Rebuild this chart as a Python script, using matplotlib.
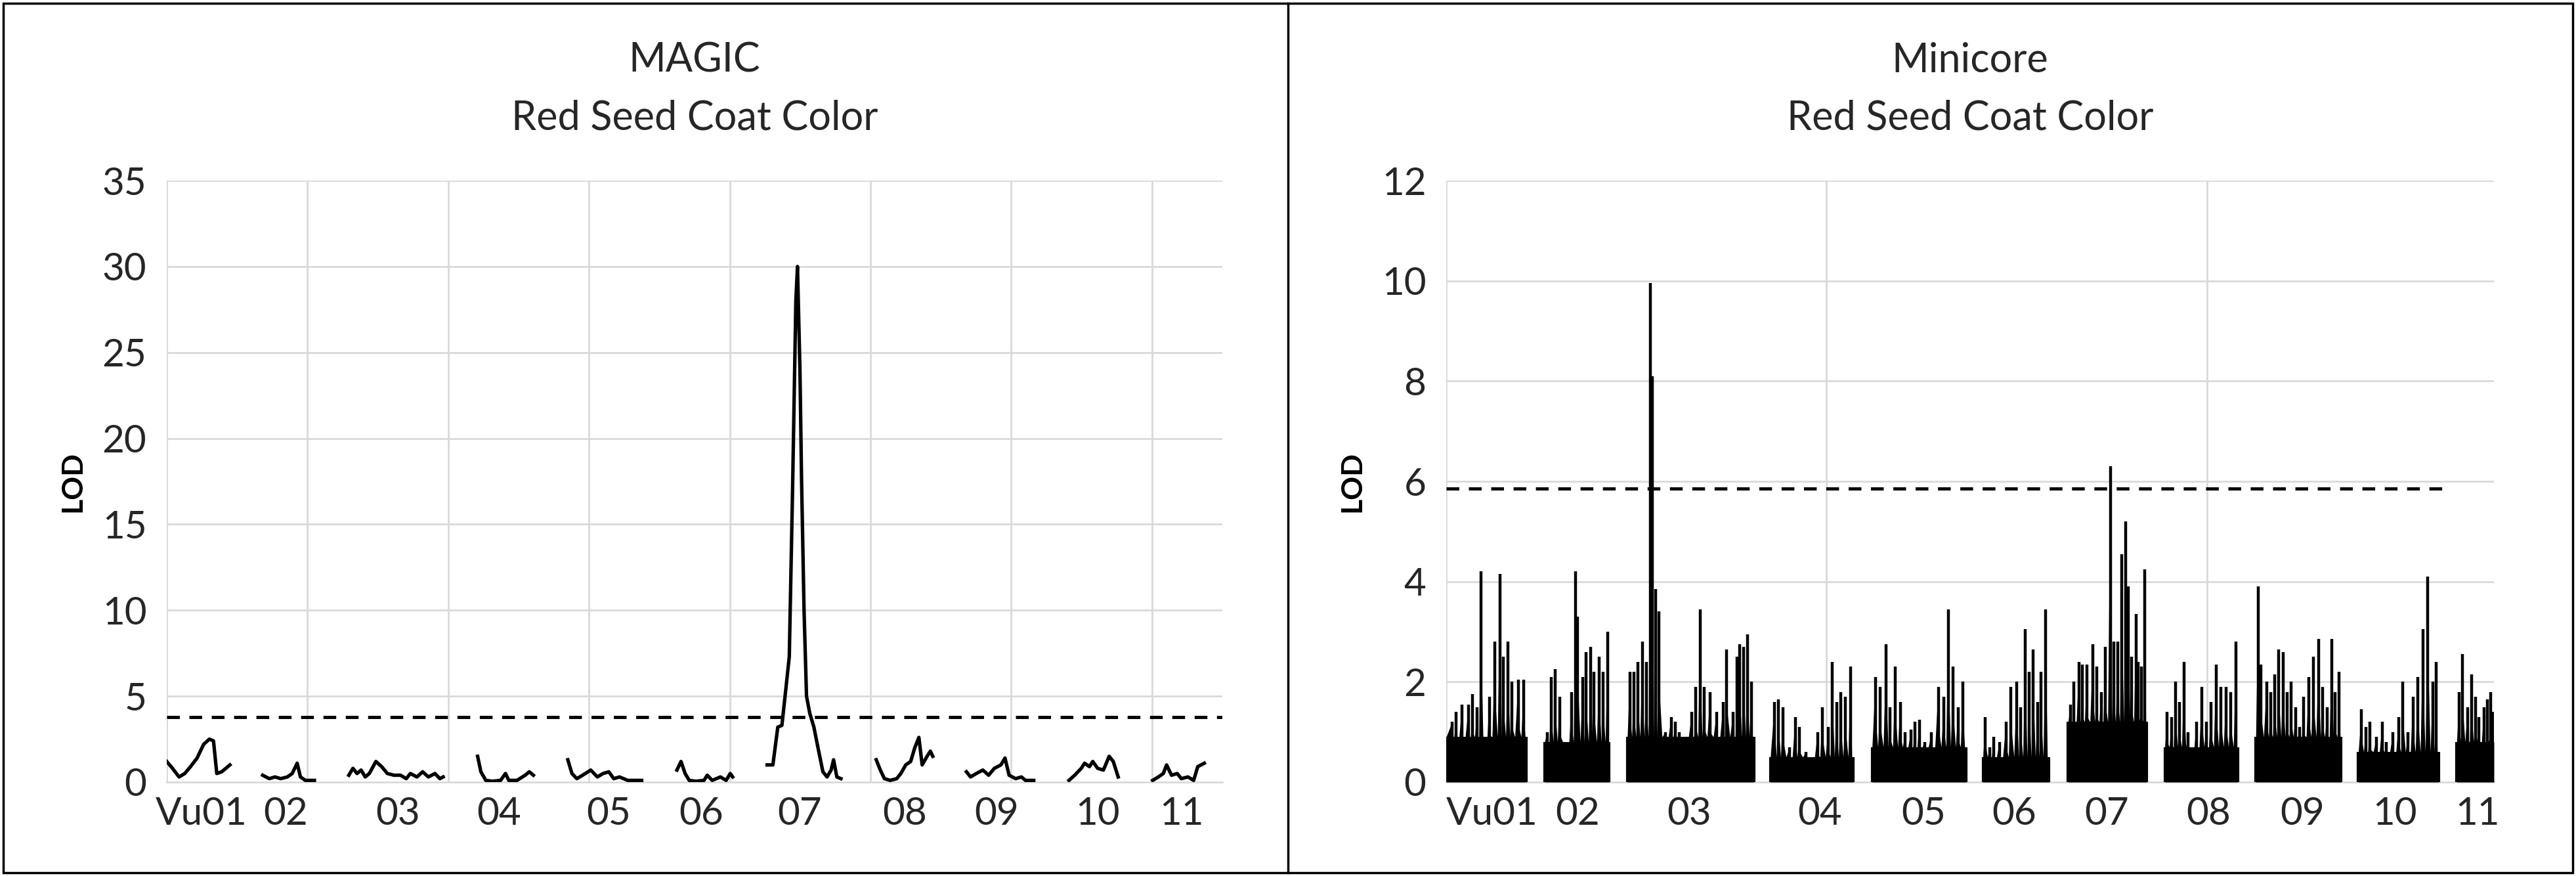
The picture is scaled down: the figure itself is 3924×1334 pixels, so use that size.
import matplotlib
matplotlib.use("Agg")
import matplotlib.pyplot as plt
import numpy as np

plt.rcParams['font.family'] = ['Lato', 'DejaVu Sans']

chroms = ["Vu01", "02", "03", "04", "05", "06", "07", "08", "09", "10", "11"]

# ---- MAGIC (left): x positions in pixel-like units, LOD values
magic_label_x = [42, 145, 282, 405, 539, 652, 772, 900, 1012, 1135, 1237]
magic_x = [
    [0, 7, 15, 22, 29, 37, 45, 52, 57, 61, 67, 72, 77],
    [117, 125, 132, 139, 147, 153, 159, 163, 169, 180],
    [222, 227, 232, 237, 242, 247, 255, 262, 269, 277, 285, 292, 297, 305, 312, 319, 327, 333, 337],
    [379, 383, 389, 397, 407, 413, 417, 427, 437, 442, 447],
    [489, 494, 500, 507, 517, 525, 532, 539, 545, 552, 562, 579],
    [622, 627, 632, 637, 645, 655, 659, 665, 675, 682, 687, 690],
    [732, 739, 745, 750, 755, 759, 763, 767, 769, 772, 774, 777, 780, 784, 789, 794, 800, 805, 810, 813, 817, 822],
    [865, 870, 875, 882, 890, 895, 901, 907, 912, 917, 921, 927, 931, 934],
    [975, 980, 987, 995, 1002, 1009, 1017, 1022, 1027, 1035, 1042, 1047, 1057],
    [1100, 1107, 1115, 1119, 1125, 1129, 1135, 1142, 1149, 1154, 1160],
    [1202, 1209, 1215, 1219, 1225, 1232, 1237, 1245, 1252, 1257, 1265],
]
magic_lod = [
    [1.2, 0.8, 0.3, 0.5, 0.9, 1.4, 2.2, 2.5, 2.4, 0.5, 0.6, 0.8, 1.0],
    [0.4, 0.2, 0.3, 0.2, 0.3, 0.5, 1.1, 0.3, 0.1, 0.1],
    [0.4, 0.8, 0.5, 0.7, 0.3, 0.5, 1.2, 0.9, 0.5, 0.4, 0.4, 0.2, 0.5, 0.3, 0.6, 0.3, 0.5, 0.2, 0.3],
    [1.5, 0.6, 0.1, 0.05, 0.1, 0.5, 0.1, 0.1, 0.4, 0.6, 0.4],
    [1.3, 0.5, 0.2, 0.4, 0.7, 0.3, 0.5, 0.6, 0.2, 0.3, 0.1, 0.1],
    [0.7, 1.2, 0.5, 0.1, 0.05, 0.1, 0.4, 0.1, 0.3, 0.1, 0.5, 0.3],
    [1.0, 1.0, 3.2, 3.3, 5.5, 7.3, 17, 28, 30, 24, 17.5, 10, 5, 4, 3.2, 2.0, 0.6, 0.3, 0.7, 1.3, 0.3, 0.2],
    [1.3, 0.7, 0.2, 0.1, 0.2, 0.5, 1.0, 1.2, 2.0, 2.6, 1.0, 1.5, 1.8, 1.5],
    [0.6, 0.3, 0.5, 0.7, 0.4, 0.8, 1.0, 1.4, 0.4, 0.2, 0.3, 0.1, 0.1],
    [0.1, 0.4, 0.8, 1.1, 0.9, 1.2, 0.8, 0.7, 1.5, 1.2, 0.3],
    [0.1, 0.3, 0.5, 1.0, 0.4, 0.5, 0.2, 0.3, 0.1, 0.9, 1.1],
]
magic_threshold = 3.8

# ---- Minicore (right): chromosome spans, base fill level, spikes
mini_label_x = [55, 159, 294, 452, 577, 687, 799, 922, 1035, 1147, 1247]
mini_span = [(0, 97), (119, 197), (219, 372), (392, 492), (515, 629), (649, 729),
             (752, 847), (869, 957), (979, 1082), (1103, 1200), (1222, 1267)]
mini_base = [0.9, 0.8, 0.9, 0.5, 0.7, 0.5, 1.2, 0.7, 0.9, 0.6, 0.8]
mini_spike_x = [
    [7, 12, 19, 27, 32, 37, 42, 47, 52, 59, 65, 69, 75, 79, 87, 94],
    [122, 127, 132, 137, 145, 152, 156, 159, 165, 169, 175, 179, 185, 190, 195],
    [222, 227, 232, 237, 242, 247, 249, 253, 257, 265, 272, 277, 282, 289, 297, 302, 307, 312, 319, 327, 335, 339, 347, 352, 355, 360, 364, 369],
    [397, 402, 407, 415, 422, 427, 435, 442, 449, 455, 462, 467, 472, 477, 483, 489],
    [519, 525, 532, 537, 543, 549, 555, 562, 567, 572, 579, 587, 595, 602, 607, 613, 619, 625],
    [652, 657, 662, 669, 677, 683, 690, 695, 700, 705, 710, 715, 719, 725],
    [755, 759, 765, 769, 775, 782, 787, 792, 797, 803, 807, 812, 817, 822, 825, 829, 834, 837, 841, 845],
    [872, 877, 882, 887, 892, 897, 902, 907, 914, 919, 925, 931, 937, 943, 949, 955],
    [982, 985, 992, 997, 1002, 1007, 1012, 1017, 1022, 1027, 1032, 1037, 1043, 1049, 1055, 1060, 1065, 1071, 1075, 1080],
    [1107, 1112, 1117, 1125, 1132, 1137, 1145, 1152, 1157, 1163, 1169, 1175, 1181, 1187, 1193, 1197],
    [1225, 1229, 1235, 1240, 1245, 1249, 1255, 1259, 1263, 1266],
]
mini_spike_lod = [
    [1.2, 1.4, 1.55, 1.55, 1.75, 1.5, 4.2, 0.9, 1.7, 2.8, 4.15, 2.5, 2.8, 2.0, 2.05, 2.05],
    [1.0, 2.1, 2.25, 1.7, 0.6, 1.8, 4.2, 3.3, 2.1, 2.6, 2.7, 2.2, 2.5, 2.2, 3.0],
    [2.2, 2.2, 2.4, 2.8, 2.4, 9.95, 8.1, 3.85, 3.4, 1.0, 1.3, 1.2, 1.0, 0.8, 1.4, 1.9, 3.45, 1.9, 1.8, 1.4, 1.6, 2.65, 1.4, 2.5, 2.75, 2.7, 2.95, 2.0],
    [1.6, 1.65, 1.5, 0.7, 1.3, 1.1, 0.6, 0.45, 1.0, 1.5, 1.1, 2.4, 1.6, 1.8, 1.7, 2.3],
    [2.1, 1.9, 2.75, 1.5, 2.3, 1.6, 1.0, 1.05, 1.2, 1.25, 0.8, 1.0, 1.9, 1.7, 3.45, 2.3, 1.5, 2.0],
    [1.3, 0.7, 0.9, 0.8, 1.2, 1.9, 2.0, 1.5, 3.05, 2.2, 2.65, 1.6, 2.2, 3.45],
    [1.55, 2.0, 2.4, 2.35, 2.35, 2.75, 2.3, 1.8, 2.7, 6.3, 2.8, 2.8, 4.55, 5.2, 3.9, 2.5, 3.35, 2.4, 2.3, 4.25],
    [1.4, 1.3, 2.0, 1.6, 2.4, 1.0, 0.6, 1.2, 1.9, 1.2, 1.6, 2.35, 1.9, 1.9, 1.8, 2.8],
    [3.9, 2.35, 2.0, 1.8, 2.15, 2.65, 2.6, 1.8, 2.0, 1.5, 1.1, 1.7, 2.1, 2.5, 2.85, 1.9, 1.5, 2.85, 1.8, 2.2],
    [1.45, 1.1, 1.2, 0.9, 1.2, 0.8, 1.0, 1.3, 2.0, 1.0, 1.7, 2.1, 3.05, 4.1, 2.0, 2.4],
    [1.8, 2.55, 1.5, 2.15, 1.7, 1.3, 1.5, 1.65, 1.8, 1.4],
]
mini_threshold = 5.85

W, H = 3924, 1334
fig = plt.figure(figsize=(W / 100, H / 100), dpi=100)
fig.patch.set_facecolor('white')

fig.add_artist(plt.Rectangle((5 / W, 5 / H), 1 - 10 / W, 1 - 10 / H, transform=fig.transFigure,
                             fill=False, edgecolor='black', lw=2.5))
fig.add_artist(plt.Line2D([1962 / W, 1962 / W], [5 / H, 1 - 5 / H], transform=fig.transFigure,
                          color='black', lw=2.5))

grid_c = '#d9d9d9'
tick_fs = 42

def style(ax, ymax, ystep, xmax, xgrid):
    ax.set_ylim(0, ymax)
    ax.set_xlim(0, xmax)
    ax.set_yticks(np.arange(0, ymax + 0.01, ystep))
    for y in np.arange(ystep, ymax + 0.01, ystep):
        ax.axhline(y, color=grid_c, lw=2, zorder=0)
    for x in xgrid:
        ax.axvline(x, color=grid_c, lw=2, zorder=0)
    for s in ['top', 'right', 'left']:
        ax.spines[s].set_visible(False)
    ax.spines['bottom'].set_color(grid_c)
    ax.spines['bottom'].set_linewidth(2)
    ax.tick_params(axis='y', length=0, labelsize=tick_fs, colors='#262626', pad=22)
    ax.tick_params(axis='x', length=0, labelsize=tick_fs, colors='#262626', pad=16)
    ax.set_ylabel('LOD', fontsize=32, fontweight='bold', labelpad=18)

ax1 = fig.add_axes([254 / W, 143 / H, (1862 - 254) / W, (1191 - 275) / H])
style(ax1, 35, 5, 1287, np.arange(0, 1287, 171.6))
for xs, ys in zip(magic_x, magic_lod):
    ax1.plot(xs, ys, color='black', lw=3.8, zorder=3)
ax1.axhline(magic_threshold, color='black', lw=3.5, ls=(0, (4, 3)), zorder=4)
ax1.set_xticks(magic_label_x)
ax1.set_xticklabels(chroms)

ax2 = fig.add_axes([2203 / W, 143 / H, (3799 - 2203) / W, (1191 - 275) / H])
style(ax2, 12, 2, 1267, [0, 460, 920])
for (a, b), base, xs, ys in zip(mini_span, mini_base, mini_spike_x, mini_spike_lod):
    ax2.fill_between([a, b], 0, base, color='black', lw=0, zorder=3)
    # zigzag between spike tops and the base, like a dense line chart
    zx, zy = [a], [base]
    for i, (x, y) in enumerate(zip(xs, ys)):
        nxt = xs[i + 1] if i + 1 < len(xs) else b
        zx += [x, x + 0.5, (x + nxt) / 2]
        zy += [y, y * 0.55, base]
    zx.append(b)
    zy.append(base)
    ax2.fill_between(zx, 0, zy, color='black', lw=0, zorder=3)
    ax2.vlines(xs, 0, ys, color='black', lw=3.2, zorder=3)
    ax2.vlines([a, b], 0, base, color='black', lw=3, zorder=3)
ax2.plot([0, 1207], [mini_threshold] * 2, color='black', lw=3.5, ls=(0, (4, 3)), zorder=4)
ax2.set_xticks(mini_label_x)
ax2.set_xticklabels(chroms)

for cx, name in [((254 + 1862) / 2, 'MAGIC'), ((2203 + 3799) / 2, 'Minicore')]:
    fig.text(cx / W, 1 - 92 / H, name, ha='center', va='center', fontsize=44, color='#262626')
    fig.text(cx / W, 1 - 180 / H, 'Red Seed Coat Color', ha='center', va='center', fontsize=44, color='#262626')

fig.savefig('out.png', dpi=100, facecolor='white')
